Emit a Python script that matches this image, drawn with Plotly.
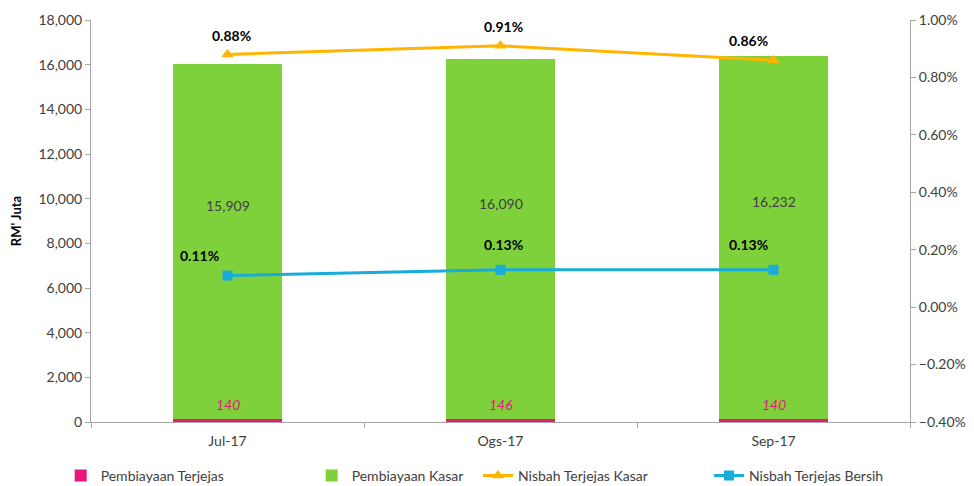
import plotly.graph_objects as go

categories = ["Jul-17", "Ogs-17", "Sep-17"]
pembiayaan_terjejas = [140, 146, 140]
pembiayaan_kasar = [15909, 16090, 16232]
nisbah_kasar = [0.0088, 0.0091, 0.0086]
nisbah_bersih = [0.0011, 0.0013, 0.0013]

FONT = "Lato"
PINK = "#E8177C"
GREEN = "#7FD13B"
ORANGE = "#FFB500"
BLUE = "#17ACDA"
AX = "#A6A6A6"
TXT = "#404040"

# label offsets (px) for percentage labels: styling only
kasar_shift = [(4, 19), (3, 19), (-25, 20)]
bersih_shift = [(-28, 20), (3, 25), (-25, 25)]

fig = go.Figure()
fig.add_trace(go.Bar(x=categories, y=pembiayaan_terjejas, name="Pembiayaan Terjejas",
                     marker=dict(color=PINK, line=dict(width=0)), legend="legend"))
fig.add_trace(go.Bar(x=categories, y=pembiayaan_kasar, name="Pembiayaan Kasar",
                     marker=dict(color=GREEN, line=dict(width=0)), legend="legend"))
fig.add_trace(go.Scatter(x=categories, y=nisbah_kasar, name="Nisbah Terjejas Kasar", yaxis="y2",
                         mode="lines+markers", legend="legend2",
                         line=dict(color=ORANGE, width=3),
                         marker=dict(symbol="triangle-up", size=11, color=ORANGE)))
fig.add_trace(go.Scatter(x=categories, y=nisbah_bersih, name="Nisbah Terjejas Bersih", yaxis="y2",
                         mode="lines+markers", legend="legend2",
                         line=dict(color=BLUE, width=3),
                         marker=dict(symbol="square", size=10, color=BLUE)))

annotations = []
for c, p, g in zip(categories, pembiayaan_terjejas, pembiayaan_kasar):
    annotations.append(dict(x=c, y=p + g * 0.6, text=f"{g:,}", showarrow=False,
                            font=dict(family=FONT, size=14, color=TXT)))
    annotations.append(dict(x=c, y=p, text=f"<i>{p}</i>", showarrow=False, yshift=14,
                            font=dict(family=FONT, size=14, color=PINK)))
for series, shifts in ((nisbah_kasar, kasar_shift), (nisbah_bersih, bersih_shift)):
    for c, v, (dx, dy) in zip(categories, series, shifts):
        annotations.append(dict(x=c, y=v, yref="y2", text=f"<b>{v*100:.2f}%</b>", showarrow=False,
                                xshift=dx, yshift=dy,
                                font=dict(family=FONT, size=14, color="#000000")))

legend_common = dict(orientation="h", y=-0.134, yanchor="middle", xanchor="left",
                     entrywidthmode="pixels", bgcolor="rgba(0,0,0,0)",
                     font=dict(family=FONT, size=14, color=TXT), traceorder="normal")

# page body has an 8px margin: figure is 966x478 placed at (8, 8)
fig.update_layout(
    width=966, height=478,
    margin=dict(l=83, r=64, t=12, b=64, autoexpand=False),
    plot_bgcolor="white", paper_bgcolor="white",
    barmode="stack", bargap=0.6,
    font=dict(family=FONT, size=14, color=TXT),
    xaxis=dict(showline=True, linecolor=AX, linewidth=1, ticks="outside", tickcolor=AX,
               ticklen=5, tickson="boundaries", showgrid=False, ticklabelstandoff=6,
               tickfont=dict(family=FONT, size=14, color=TXT)),
    yaxis=dict(range=[0, 18000], dtick=2000, tickformat=",", showline=True, linecolor=AX,
               ticks="outside", tickcolor=AX, ticklen=5, showgrid=False, zeroline=False,
               title=dict(text="<b>RM' Juta</b>", font=dict(family=FONT, size=13, color="#000000"), standoff=14),
               tickfont=dict(family=FONT, size=14, color=TXT)),
    yaxis2=dict(range=[-0.004, 0.01], dtick=0.002, tickformat=".2%", overlaying="y", side="right",
                showline=True, linecolor=AX, ticks="outside", tickcolor=AX, ticklen=5,
                showgrid=False, zeroline=False,
                tickfont=dict(family=FONT, size=14, color=TXT)),
    legend=dict(legend_common, x=-0.037, entrywidth=206),
    legend2=dict(legend_common, x=0.4725, entrywidth=186),
    annotations=annotations,
)

fig.write_html("out.html")
